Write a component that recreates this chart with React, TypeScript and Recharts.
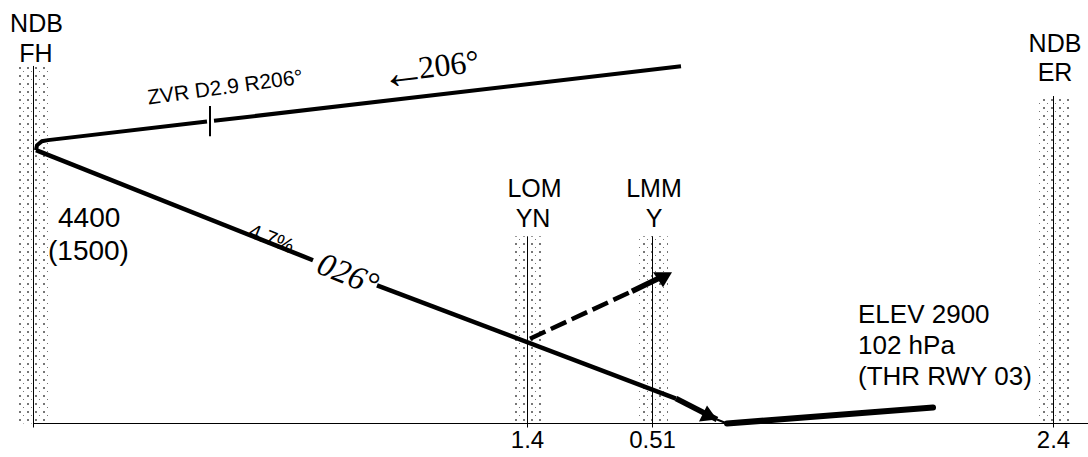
import { ComposedChart, Line, ReferenceArea, ReferenceDot, ReferenceLine, XAxis, YAxis } from "recharts";

// x: chart units from beacon FH, alt: feet
const outboundA = [
  { x: 0.3, alt: 4400 },
  { x: 0.4, alt: 4427 },
  { x: 0.9, alt: 4449 },
  { x: 1.5, alt: 4455 },
  { x: 17.4, alt: 4557 },
];
const outboundB = [
  { x: 18.1, alt: 4561 },
  { x: 64.8, alt: 4861 },
];
const fixTick = [
  { x: 17.7, alt: 4477 },
  { x: 17.7, alt: 4642 },
];
const descentA = [
  { x: 0.3, alt: 4400 },
  { x: 28.0, alt: 3796 },
];
const descentB = [
  { x: 34.4, alt: 3658 },
  { x: 64.3, alt: 3037 },
];
const descentEnd = [
  { x: 64.3, alt: 3037 },
  { x: 68.4, alt: 2922 },
];
const descentTail = [
  { x: 68.4, alt: 2922 },
  { x: 69.4, alt: 2900 },
];
const runway = [
  { x: 69.4, alt: 2900 },
  { x: 90.0, alt: 2988 },
];
const missedDash = [
  { x: 49.7, alt: 3365 },
  { x: 59.9, alt: 3626 },
];
const missedEnd = [
  { x: 59.9, alt: 3626 },
  { x: 63.0, alt: 3708 },
];

const beacons = [
  { x: 0.05, x1: -1.4, x2: 1.6, top: 4862 },
  { x: 49.45, x1: 48, x2: 50.9, top: 3927 },
  { x: 61.95, x1: 60.5, x2: 63.5, top: 3927 },
  { x: 102.05, x1: 100.4, x2: 103.6, top: 4697 },
];

const tickValues = [0.05, 49.45, 61.95, 102.05];
const tickTexts = ["", "1.4", "0.51", "2.4"];

const beaconLabels = [
  { text: "NDB", x: 0.35, alt: 5048 },
  { text: "FH", x: 0.3, alt: 4884 },
  { text: "LOM", x: 50.15, alt: 4142 },
  { text: "YN", x: 50.0, alt: 3977 },
  { text: "LMM", x: 62.1, alt: 4142 },
  { text: "Y", x: 62.1, alt: 3977 },
  { text: "NDB", x: 102.2, alt: 4938 },
  { text: "ER", x: 102.2, alt: 4779 },
];
const minimaLabels = [
  { text: "4400", x: 2.5, alt: 3977 },
  { text: "(1500)", x: 1.5, alt: 3796 },
];
const elevLabels = [
  { text: "ELEV 2900", x: 82.5, alt: 3449 },
  { text: "102 hPa", x: 82.5, alt: 3279 },
  { text: "(THR RWY 03)", x: 82.5, alt: 3109 },
];

const SANS = "'Liberation Sans', Arial, sans-serif";
const SERIF = "'Liberation Serif', 'Times New Roman', serif";

type TextOpts = {
  size: number;
  anchor?: "start" | "middle";
  family?: string;
  italic?: boolean;
  angle?: number;
};

function note(item: { text: string; x: number; alt: number }, opts: TextOpts, key: string) {
  const { size, anchor = "middle", family = SANS, italic, angle = 0 } = opts;
  return (
    <ReferenceDot
      key={key}
      x={item.x}
      y={item.alt}
      r={0}
      ifOverflow="visible"
      shape={(p: any) => (
        <text
          x={p.cx}
          y={p.cy}
          fontSize={size}
          fontFamily={family}
          fontStyle={italic ? "italic" : "normal"}
          textAnchor={anchor}
          fill="#000"
          transform={angle ? `rotate(${angle} ${p.cx} ${p.cy})` : undefined}
        >
          {item.text}
        </text>
      )}
    />
  );
}

function arrowDot(points: string, last: number) {
  return (p: any) =>
    p.index === last ? (
      <polygon
        key={p.index}
        points={points}
        transform={`translate(${p.cx} ${p.cy})`}
        fill="#000"
      />
    ) : (
      <g key={p.index} />
    );
}

function seg(data: { x: number; alt: number }[], width: number, extra: any = {}) {
  return (
    <Line
      data={data}
      dataKey="alt"
      stroke="#000"
      strokeWidth={width}
      dot={false}
      activeDot={false}
      legendType="none"
      isAnimationActive={false}
      {...extra}
    />
  );
}

export default function App() {
  return (
    <div style={{ position: "absolute", left: 0, top: 0, width: 1088, height: 457 }}>
      <ComposedChart width={1088} height={457} margin={{ top: 0, right: 0, bottom: 0, left: 33 }}>
        <defs>
          <pattern id="dots" patternUnits="userSpaceOnUse" width={8} height={8}>
            <rect x={3} y={3} width={2} height={2} fill="#777" />
            <rect x={7} y={7} width={2} height={2} fill="#777" />
          </pattern>
        </defs>
        <XAxis
          dataKey="x"
          type="number"
          domain={[0, 105.5]}
          ticks={tickValues}
          tickFormatter={(v: number) => tickTexts[tickValues.indexOf(v)]}
          interval={0}
          height={33.5}
          stroke="#000"
          tickSize={4}
          tickMargin={3}
          tick={{ fontSize: 24, fontFamily: SANS, fill: "#000" }}
          allowDataOverflow
        />
        <YAxis hide type="number" domain={[2900, 5224]} />

        {beacons.map((b) => (
          <ReferenceArea
            key={`area-${b.x}`}
            x1={b.x1}
            x2={b.x2}
            y1={2900}
            y2={b.top}
            ifOverflow="visible"
            fill="url(#dots)"
            fillOpacity={1}
            stroke="none"
          />
        ))}
        {beacons.map((b) => (
          <ReferenceLine
            key={`line-${b.x}`}
            segment={[
              { x: b.x, y: 2900 },
              { x: b.x, y: b.top },
            ]}
            ifOverflow="visible"
            stroke="#000"
            strokeWidth={1}
          />
        ))}

        {seg(outboundA, 4)}
        {seg(outboundB, 4)}
        {seg(fixTick, 2)}
        {seg(descentA, 4.5)}
        {seg(descentB, 4.5)}
        {seg(descentEnd, 5.5, { dot: arrowDot("0,0 -10,-14 -18,2", 1) })}
        {seg(descentTail, 2)}
        {seg(runway, 6, { strokeLinecap: "round" })}
        {seg(missedDash, 4.5, { strokeDasharray: "17 6" })}
        {seg(missedEnd, 5.5, { dot: arrowDot("9,-4 -10,-4 0,11", 1) })}

        {beaconLabels.map((l, i) => note(l, { size: 25 }, `b${i}`))}
        {minimaLabels.map((l, i) => note(l, { size: 28, anchor: "start" }, `m${i}`))}
        {elevLabels.map((l, i) => note(l, { size: 26, anchor: "start" }, `e${i}`))}
        {note({ text: "←", x: 37.2, alt: 4746 }, { size: 46, family: SERIF, angle: -7 }, "arrow")}
        {note({ text: "206°", x: 41.7, alt: 4812 }, { size: 32, family: SERIF, angle: -7 }, "inbound")}
        {note({ text: "ZVR D2.9 R206°", x: 19.3, alt: 4708 }, { size: 21, angle: -7.7 }, "fix")}
        {note({ text: "4.7%", x: 23.6, alt: 3880 }, { size: 20.5, angle: 22 }, "grad")}
        {note({ text: "026°", x: 31.1, alt: 3665 }, { size: 33, family: SERIF, italic: true, angle: 22 }, "track")}
      </ComposedChart>
    </div>
  );
}
